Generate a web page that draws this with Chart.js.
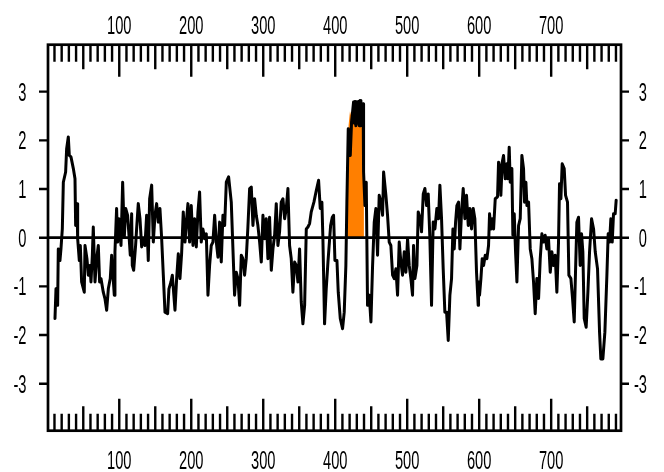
<!DOCTYPE html>
<html><head><meta charset="utf-8">
<script src="https://cdn.jsdelivr.net/npm/chart.js@4"></script>
<style>html,body{margin:0;padding:0;background:#fff;}#wrap{width:664px;height:472px;}</style>
</head><body><div id="wrap"><canvas id="c" width="664" height="472"></canvas></div>
<script>
// ---- data ----
const xValues = [
10.7,12.1,14.4,15.3,17.6,19.0,20.9,22.3,25.5,26.9,29.2,30.6,32.9,36.2,38.5,39.4,41.3,42.2,44.5,45.9,47.7,51.4,52.4,55.1,57.0,59.3,60.7,62.6,63.9,66.3,68.6,70.9,72.7,74.6,77.8,80.1,82.5,84.8,87.5,89.4,93.1,94.0,96.3,97.7,99.6,102.4,104.7,107.0,108.9,111.6,113.5,115.3,117.2,118.1,120.0,122.7,124.1,126.4,128.8,131.1,133.4,135.7,138.0,140.3,142.2,145.0,147.3,149.6,151.9,154.2,156.5,158.8,161.2,163.5,167.2,169.0,171.8,173.7,177.4,179.7,182.0,184.3,186.6,188.9,191.3,193.6,
195.4,197.7,200.0,202.4,204.7,207.0,209.3,211.6,213.9,216.2,218.6,220.9,223.2,225.5,227.8,230.1,232.5,234.8,237.1,239.4,241.7,244.0,246.4,248.7,251.9,255.6,257.9,260.2,262.5,264.9,267.2,269.5,271.8,274.1,276.4,278.7,281.1,283.4,285.7,288.0,290.3,292.6,295.0,297.3,299.6,301.9,304.2,306.5,308.8,311.2,313.5,315.8,318.1,320.4,322.7,325.0,327.4,329.7,332.0,334.3,336.6,338.9,341.2,343.6,345.9,348.2,350.5,352.8,355.1,357.5,359.8,362.1,364.4,366.7,370.4,373.7,376.9,379.2,381.5,382.9,385.2,387.5,389.9,393.6,395.9,
397.7,399.6,402.4,404.2,407.0,410.2,412.5,414.8,416.2,418.1,420.9,422.7,424.1,425.5,426.5,427.5,428.7,429.8,431.0,432.2,433.4,434.5,435.7,436.8,438.0,438.8,439.4,441.3,443.1,444.9,447.3,449.6,451.9,454.2,456.5,458.8,461.1,463.5,465.8,467.2,470.4,472.7,475.0,477.3,479.7,482.0,484.3,486.6,488.9,491.2,493.5,495.9,498.2,500.5,502.8,505.1,507.4,508.8,510.7,513.5,515.3,518.1,519.9,522.3,524.6,526.9,529.2,531.5,533.8,536.1,538.5,541.2,543.5,545.4,547.7,550.0,552.3,554.7,557.0,559.3,561.6,563.5,565.3,567.2,569.0,571.3,573.2,575.5,577.8,580.1,582.4,584.8,587.1,589.4,591.7,594.0,596.3,598.6,
599.1,600.5,602.4,604.2,606.1,608.4,610.7,613.0,614.4,616.3,618.1,620.0,622.3,625.5,626.9,629.2,630.1,632.0,633.8,636.2,638.5,639.9,641.7,643.1,645.4,646.8,648.7,650.5,652.4,654.7,657.0,659.3,661.6,663.0,664.9,666.3,668.6,670.9,673.2,675.5,677.8,680.1,682.5,684.8,687.1,689.4,691.7,694.0,696.3,698.7,701.0,703.3,705.6,707.9,710.2,711.6,713.5,715.3,718.1,720.0,722.7,724.6,727.4,729.7,732.0,733.8,735.7,738.0,740.3,742.2,744.0,745.9,748.6,751.0,753.3,756.1,758.9,761.2,764.4,767.2,769.0,771.8,774.6,777.4,779.2,781.1,782.9,784.8,786.6,788.9,790.3
];
const yValues = [
-1.66,-1.05,-1.39,-0.23,-0.47,-0.23,0.18,1.14,1.35,1.83,2.07,1.69,1.66,1.42,1.21,0.25,0.70,-0.02,-0.47,-0.16,-0.91,-1.12,-0.16,-0.43,-0.77,-0.57,-0.91,-0.36,0.22,-0.91,-0.43,-0.16,-0.91,-0.84,-1.12,-1.25,-1.49,-1.05,-0.84,-0.36,-1.18,-0.29,0.60,-0.09,0.39,-0.16,1.14,0.01,0.60,0.46,0.05,-0.36,0.49,-0.57,-0.67,-0.16,0.18,0.70,0.39,-0.19,-0.02,-0.16,0.46,-0.47,0.80,1.08,-0.09,0.46,0.70,0.32,0.60,0.01,-0.77,-1.53,-1.56,-1.05,-0.91,-0.77,-1.49,-0.84,-0.33,-0.84,-0.33,0.53,-0.09,0.39,
0.70,-0.09,0.66,-0.16,0.39,-0.19,0.53,0.94,-0.09,0.18,-0.02,0.08,-1.18,-0.57,-0.16,-0.09,0.46,-0.09,-0.40,0.32,-0.50,0.46,0.25,1.14,1.25,0.73,-0.23,-1.18,-0.71,-0.84,-1.39,-0.36,-0.43,-0.77,-0.43,0.22,1.01,1.04,0.25,0.80,0.46,0.25,-0.09,-0.50,0.46,-0.02,0.39,-0.43,0.42,-0.67,-0.23,0.05,0.70,-0.16,0.12,0.73,0.80,0.39,0.60,1.01,-0.16,-0.43,-1.12,-0.50,-0.57,-0.91,-0.23,-1.32,-1.77,-1.39,0.18,0.22,0.29,0.53,0.73,0.97,1.18,0.60,0.73,-0.02,-1.77,-1.05,-0.50,0.25,0.42,
0.46,-0.47,-0.47,-1.12,-1.66,-1.87,-1.53,-0.57,0.73,2.24,1.69,2.38,2.58,2.79,2.35,2.80,2.30,2.79,2.35,2.80,2.30,2.82,2.30,2.75,2.30,2.75,1.35,0.66,1.14,-1.39,-1.18,-1.73,-0.57,0.32,0.60,-0.36,0.87,0.73,0.46,1.35,0.87,0.46,-0.09,-0.16,-0.77,-0.84,-0.64,-1.18,-0.09,-0.50,-0.77,-0.29,-0.71,-0.02,-0.57,-0.84,-1.18,-0.16,-0.84,-0.57,0.53,0.39,0.12,0.90,1.01,0.66,0.90,-0.02,-1.39,0.32,0.18,0.60,0.39,1.08,0.39,-0.64,-1.53,-1.53,-2.11,-1.18,-0.84,0.18,-0.23,0.32,0.66,0.73,-0.23,0.53,1.01,0.39,0.87,0.25,0.60,0.18,0.60,0.39,-0.71,-1.39,
-0.91,-1.18,-0.84,-0.43,-0.57,-0.36,-0.43,-0.16,0.49,0.18,0.39,0.18,0.80,0.84,1.55,1.42,0.87,1.55,1.69,1.21,1.52,1.21,1.86,1.14,1.42,0.05,0.49,-0.29,-0.91,0.25,0.39,1.69,1.42,0.73,1.14,0.66,0.73,-0.23,-0.43,-0.91,-1.56,-0.84,-1.25,-0.43,0.08,-0.09,0.05,-0.23,-0.02,-0.71,-0.29,-0.57,-0.36,-1.12,-0.09,1.11,0.80,1.52,1.42,0.87,0.73,-0.77,-0.84,-1.25,-1.73,-0.71,0.32,0.42,-0.57,0.08,-0.29,-1.66,-1.84,-1.12,-0.29,0.39,0.18,-0.29,-0.64,-1.94,-2.49,-2.49,-1.94,-0.77,0.08,-0.09,0.39,-0.09,0.49,0.49,0.77
];
// highlighted (orange) region
const highlightX = [414.3, 414.8, 417.5, 418.5, 420.5, 424.0, 439.9];
const highlightY = [0.0, 0.78, 0.85, 2.30, 2.60, 2.40, 2.40];
// axis ticks
const xTickLabels = [100, 200, 300, 400, 500, 600, 700];
const yTickLabels = [-3, -2, -1, 0, 1, 2, 3];

const toPts = (xs, ys) => xs.map((x, i) => ({x: x, y: ys[i]}));

const LABEL_FONT = '25px "Liberation Sans Narrow", "Liberation Sans", Arial, sans-serif';

const rAxes = {
  id: 'rAxes',
  afterDatasetsDraw(chart) {
    const {ctx, chartArea: a, scales: {x, y}} = chart;
    ctx.save();
    ctx.strokeStyle = '#000';
    ctx.lineCap = 'butt';
    // zero reference line
    ctx.lineWidth = 2.7;
    const y0 = y.getPixelForValue(0);
    ctx.beginPath(); ctx.moveTo(a.left, y0); ctx.lineTo(a.right, y0); ctx.stroke();
    // frame
    ctx.lineWidth = 2.7;
    ctx.strokeRect(a.left, a.top, a.right - a.left, a.bottom - a.top);
    // x ticks (inside, top and bottom)
    ctx.lineWidth = 2.4;
    for (let v = 10; v <= 790; v += 10) {
      const px = x.getPixelForValue(v);
      const len = (v % 100 === 0) ? 32 : (v % 50 === 0) ? 24.5 : 17;
      ctx.beginPath();
      ctx.moveTo(px, a.top); ctx.lineTo(px, a.top + len);
      ctx.moveTo(px, a.bottom); ctx.lineTo(px, a.bottom - len);
      ctx.stroke();
    }
    // y ticks (outside, left and right)
    yTickLabels.forEach(v => {
      const py = y.getPixelForValue(v);
      ctx.beginPath();
      ctx.moveTo(a.left - 9, py); ctx.lineTo(a.left, py);
      ctx.moveTo(a.right, py); ctx.lineTo(a.right + 8, py);
      ctx.stroke();
    });
    // labels (condensed)
    ctx.fillStyle = '#000';
    ctx.font = LABEL_FONT;
    ctx.textBaseline = 'alphabetic';
    const sx = 24.5 / ctx.measureText('200').width;
    const put = (txt, px, py, align) => {
      ctx.save();
      ctx.translate(px, py);
      ctx.scale(sx, 1);
      ctx.textAlign = align;
      ctx.fillText(txt, 0, 0);
      ctx.restore();
    };
    xTickLabels.forEach(v => {
      const px = x.getPixelForValue(v);
      put(String(v), px, 33.5, 'center');
      put(String(v), px, 468.5, 'center');
    });
    yTickLabels.forEach(v => {
      const py = y.getPixelForValue(v);
      put(String(v), 26.5, py + 9, 'right');
      put(String(v), 647, py + 9, 'right');
    });
    ctx.restore();
  }
};

new Chart(document.getElementById('c'), {
  type: 'line',
  data: {
    datasets: [
      {
        data: toPts(xValues, yValues),
        borderColor: '#000',
        borderWidth: 3,
        borderJoinStyle: 'round',
        borderCapStyle: 'round',
        fill: false,
        pointRadius: 0,
        tension: 0
      },
      {
        data: toPts(highlightX, highlightY),
        borderWidth: 0,
        borderColor: 'rgba(0,0,0,0)',
        backgroundColor: '#FF7F00',
        fill: 'origin',
        pointRadius: 0,
        tension: 0
      }
    ]
  },
  options: {
    responsive: false,
    animation: false,
    layout: {padding: {left: 48, top: 44.7, right: 43, bottom: 41.3}},
    plugins: {legend: {display: false}, tooltip: {enabled: false}},
    scales: {
      x: {type: 'linear', min: 1, max: 797, display: false},
      y: {type: 'linear', min: -3.965, max: 3.965, display: false}
    }
  },
  plugins: [rAxes]
});
</script>
</body></html>
